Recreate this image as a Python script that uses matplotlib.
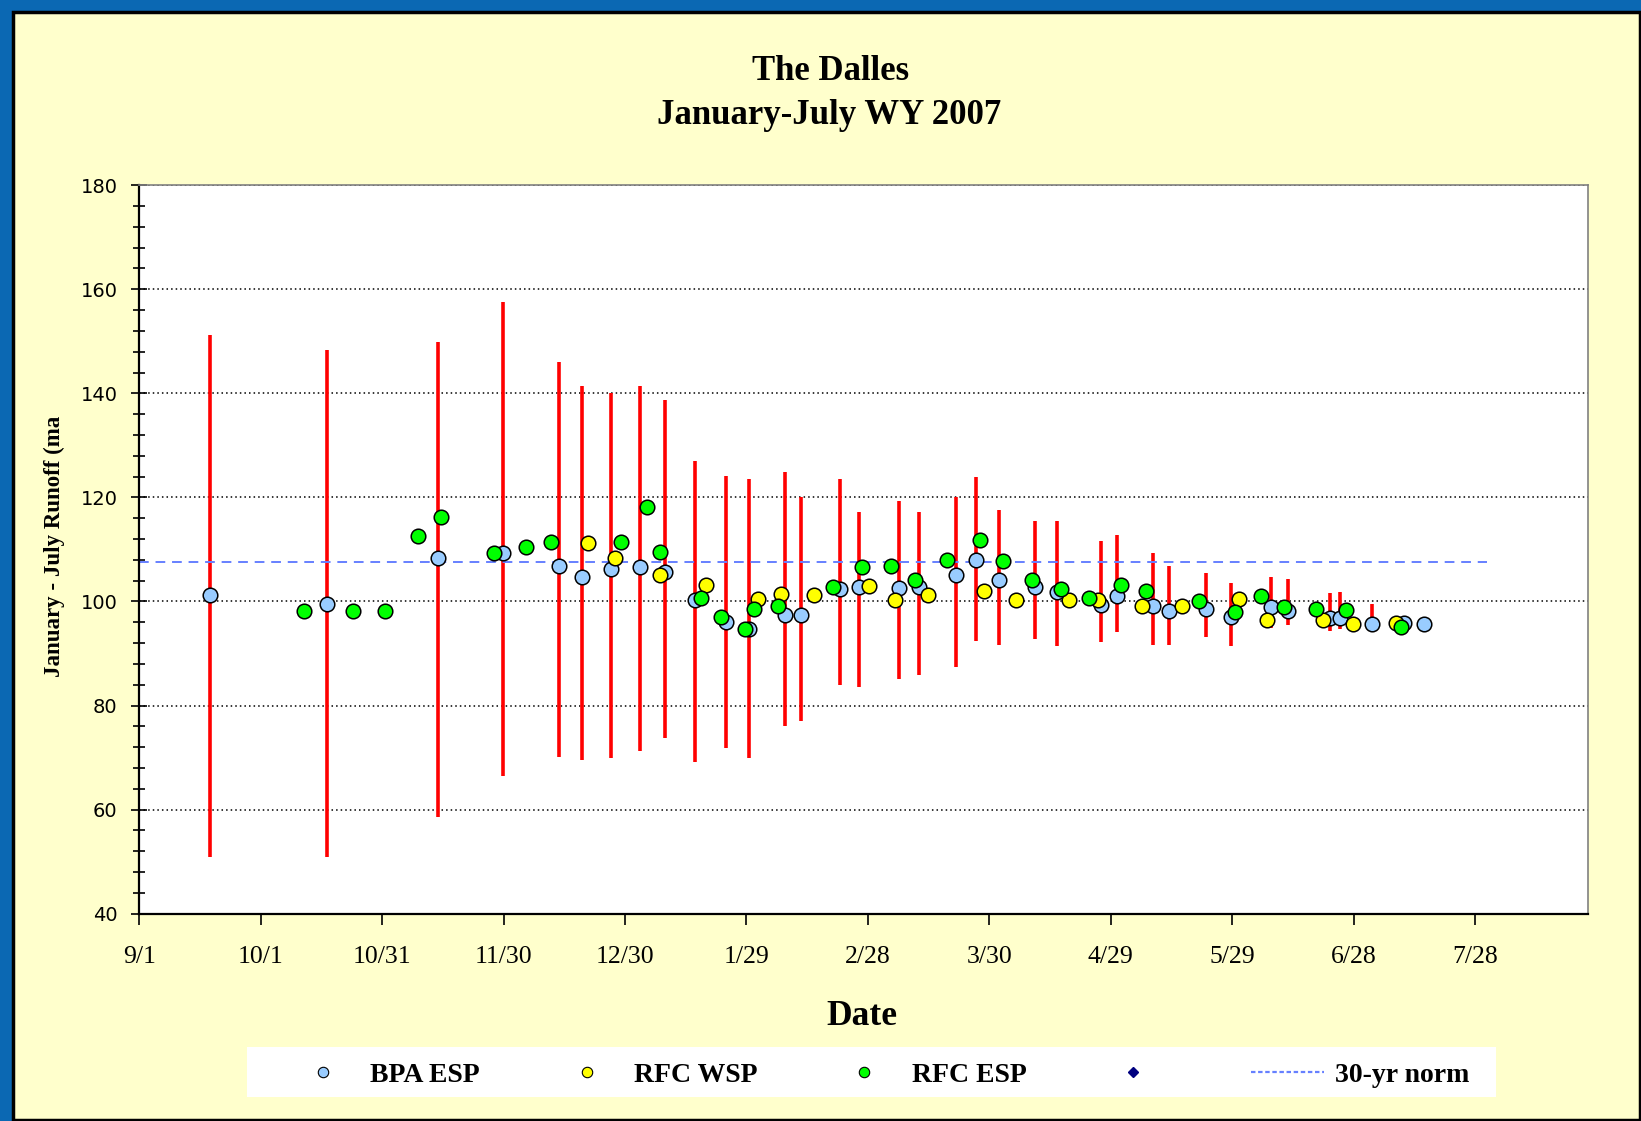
import numpy as np
import matplotlib
matplotlib.use("Agg")
import matplotlib.pyplot as plt
from matplotlib.lines import Line2D
from matplotlib.patches import Rectangle
from matplotlib.ticker import MultipleLocator

# days counted from 9/1 (start of water year)
tick_days = [0, 30, 60, 90, 120, 150, 180, 210, 240, 270, 300, 330]
tick_labels = ["9/1", "10/1", "10/31", "11/30", "12/30", "1/29", "2/28",
               "3/30", "4/29", "5/29", "6/28", "7/28"]

# BPA ESP forecasts with range (low / high)
bpa_day = [17.5, 46.5, 73.7, 89.9, 103.6, 109.5, 116.5, 123.7, 129.8, 137.3,
           145.0, 150.7, 159.6, 163.6, 173.0, 177.7, 187.7, 192.6, 201.8, 206.7,
           212.5, 221.4, 226.7, 237.5, 241.5, 250.4, 254.5, 263.6, 269.8, 279.6,
           283.8, 294.2, 296.5, 304.6, 312.5, 317.3]
bpa_val = [101.3, 99.6, 108.3, 109.4, 106.9, 104.7, 106.2, 106.6, 105.6, 100.3,
           96.0, 94.7, 97.5, 97.5, 102.4, 102.8, 102.5, 102.7, 105.1, 108.0,
           104.2, 102.7, 101.9, 99.4, 101.1, 99.2, 98.2, 98.5, 97.1, 98.9,
           98.1, 96.8, 96.8, 95.7, 95.8, 95.7]
bpa_lo = [50.9, 50.9, 58.5, 66.5, 70.1, 69.5, 69.9, 71.3, 73.7, 69.1,
          71.9, 69.9, 76.1, 77.1, 84.0, 83.6, 85.1, 85.8, 87.5, 92.4,
          91.7, 92.7, 91.4, 92.3, 94.1, 91.7, 91.7, 93.1, 91.4, 94.9,
          95.5, 94.4, 94.7, 94.1, np.nan, np.nan]
bpa_hi = [151.2, 148.4, 149.8, 157.5, 146.0, 141.5, 140.0, 141.5, 138.8, 127.0,
          124.1, 123.5, 124.9, 120.0, 123.5, 117.2, 119.3, 117.2, 120.0, 124.0,
          117.6, 115.5, 115.5, 111.7, 112.8, 109.3, 106.8, 105.4, 103.6, 104.7,
          104.3, 101.6, 101.9, 99.5, np.nan, np.nan]

# RFC water supply forecast
wsp_day = [110.9, 117.5, 128.6, 139.9, 152.9, 158.6, 166.6, 180.4, 186.8, 194.8,
           208.6, 216.7, 229.7, 236.8, 247.8, 257.7, 271.6, 278.6, 292.5, 299.8,
           310.5]
wsp_val = [111.2, 108.3, 105.1, 103.1, 100.5, 101.4, 101.3, 103.0, 100.2, 101.3,
           102.0, 100.2, 100.2, 100.2, 99.2, 99.2, 100.4, 96.5, 96.5, 95.7,
           95.8]

# RFC ESP
resp_day = [40.7, 52.9, 60.8, 68.8, 74.5, 87.6, 95.6, 101.8, 118.9, 125.5,
            128.6, 138.7, 143.8, 149.7, 151.9, 157.7, 171.4, 178.6, 185.8, 191.6,
            199.6, 207.8, 213.4, 220.5, 227.8, 234.5, 242.6, 248.8, 261.7, 270.7,
            277.0, 282.7, 290.7, 298.0, 311.7]
resp_val = [98.1, 98.1, 98.1, 112.5, 116.3, 109.4, 110.4, 111.5, 111.5, 118.1,
            109.5, 100.6, 97.1, 94.7, 98.5, 99.2, 102.7, 106.6, 106.9, 104.2,
            108.0, 111.8, 107.7, 104.2, 102.4, 100.6, 103.1, 102.0, 100.0, 97.9,
            101.0, 98.9, 98.5, 98.3, 95.1]

norm_day = [0, 333]
norm_val = [107.5, 107.5]

fig = plt.figure(figsize=(16.41, 11.21), dpi=100)
fig.patch.set_facecolor("#0B68B3")
fig.patches.append(Rectangle((13/1641, 0.001), 1 - 14/1641, 1 - 13/1121,
                             transform=fig.transFigure, facecolor="#FFFFCC",
                             edgecolor="black", linewidth=2.5, zorder=-5))
# white legend box
fig.patches.append(Rectangle((247/1641, 0.0214), (1496 - 247)/1641, 0.0446,
                             transform=fig.transFigure, facecolor="white",
                             edgecolor="none", zorder=-4))

ax = fig.add_axes([0.0848, 0.1849, 0.968 - 0.0848, 0.8348 - 0.1849])
ax.set_zorder(3)
ax.set_facecolor("white")

ax.vlines(bpa_day, bpa_lo, bpa_hi, colors="#FF0000", linewidth=2.6, zorder=2)
ax.plot(norm_day, norm_val, color="#6680FF", linestyle=(0, (5, 3.5)), linewidth=1.4, zorder=2)
mk = dict(linestyle="none", marker="o", markersize=10.5, markeredgecolor="black",
          markeredgewidth=1.1, zorder=3)
ax.plot(bpa_day, bpa_val, markerfacecolor="#99CCFF", **mk)
ax.plot(wsp_day, wsp_val, markerfacecolor="#FFFF00", **mk)
ax.plot(resp_day, resp_val, markerfacecolor="#00FF00", **mk)

ax.set_xlim(0, 358)
ax.set_ylim(40, 180)
ax.set_xticks(tick_days)
ax.set_xticklabels(tick_labels, family="Liberation Serif", fontsize=18.5)
ax.set_yticks(range(40, 181, 20))
ax.yaxis.set_minor_locator(MultipleLocator(4))
for lab in ax.get_yticklabels():
    lab.set_family("DejaVu Sans")
    lab.set_fontsize(14)
ax.tick_params(axis="y", which="major", direction="inout", length=11, width=1.2, pad=10)
ax.tick_params(axis="y", which="minor", direction="inout", length=9, width=1.2)
ax.tick_params(axis="x", direction="out", length=8, width=1.2, pad=15)

ax.yaxis.grid(True, which="major", linestyle=(0, (1, 2)), color="black", linewidth=1.1)
ax.set_axisbelow(True)
for s in ["left", "bottom"]:
    ax.spines[s].set_linewidth(1.6)
    ax.spines[s].set_color("black")
for s in ["top", "right"]:
    ax.spines[s].set_linewidth(1.2)
    ax.spines[s].set_color("#808080")

serif = "Liberation Serif"
fig.text(0.506, 0.936, "The Dalles", ha="center", va="center",
         family=serif, fontweight="bold", fontsize=25)
fig.text(0.505, 0.897, "January-July WY 2007", ha="center", va="center",
         family=serif, fontweight="bold", fontsize=25)
fig.text(0.5255, 0.093, "Date", ha="center", va="center",
         family=serif, fontweight="bold", fontsize=25.5)
fig.text(0.033, 0.513, "January - July Runoff (ma", ha="center", va="center",
         rotation=90, family=serif, fontweight="bold", fontsize=16.5)

handles = [
    Line2D([], [], linestyle="none", marker="o", markersize=7.5, markerfacecolor="#99CCFF", markeredgecolor="black", markeredgewidth=0.8),
    Line2D([], [], linestyle="none", marker="o", markersize=7.5, markerfacecolor="#FFFF00", markeredgecolor="black", markeredgewidth=0.8),
    Line2D([], [], linestyle="none", marker="o", markersize=7.5, markerfacecolor="#00FF00", markeredgecolor="black", markeredgewidth=0.8),
    Line2D([], [], linestyle="none", marker="D", markersize=5, color="#000080"),
    Line2D([], [], color="#6680FF", linestyle=(0, (2, 1.2)), linewidth=1.6),
]
labels = ["BPA ESP", "RFC WSP", "RFC ESP", "", "30-yr norm"]
leg = fig.legend(handles, labels, loc="center", ncol=5, mode="expand",
                 bbox_to_anchor=(287/1641, 0.0186, (1469 - 287)/1641, 0.0446),
                 bbox_transform=fig.transFigure, frameon=False,
                 borderaxespad=0, borderpad=0, handlelength=2.6, handletextpad=0.4,
                 prop={"family": serif, "weight": "bold", "size": 20})

fig.savefig("out.png", dpi=100, facecolor=fig.get_facecolor())
